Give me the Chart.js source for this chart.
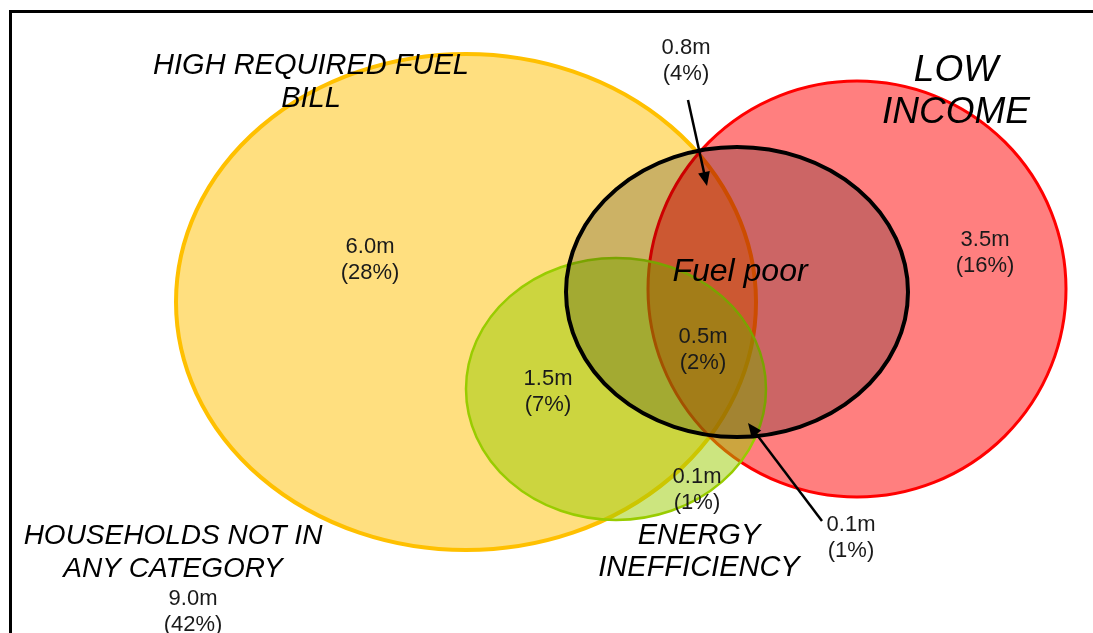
<!DOCTYPE html>
<html>
<head>
<meta charset="utf-8">
<script src="https://cdn.jsdelivr.net/npm/chart.js@4"></script>
<style>
  html, body { margin: 0; padding: 0; background: #fff; }
  #wrap { width: 1093px; height: 633px; }
</style>
</head>
<body>
<div id="wrap"><canvas id="myChart" width="1093" height="633"></canvas></div>
<script>
// the four sets of the diagram, drawn in this order
const setNames = [['HIGH REQUIRED FUEL', 'BILL'], ['LOW', 'INCOME'], ['ENERGY', 'INEFFICIENCY'], ['Fuel poor']];
const outsideName = ['HOUSEHOLDS NOT IN', 'ANY CATEGORY'];

// households in each region (millions) and share of all households (%)
const regionMillions = [6.0, 3.5, 1.5, 0.5, 0.8, 0.1, 0.1, 9.0];
const regionShares = [28, 16, 7, 2, 4, 1, 1, 42];

// layout, in a 1093 x 633 grid with y going down
const ellipseX = [466, 857, 616, 737];
const ellipseY = [302, 289, 389, 292];
const ellipseRx = [290, 209, 150, 171];
const ellipseRy = [248, 208, 131, 145];

const setFill = ['rgba(255,192,0,0.5)', 'rgba(255,0,0,0.5)', 'rgba(153,204,0,0.5)', 'rgba(0,0,0,0.2)'];
const setStroke = ['#FFC000', '#FF0000', '#99CC00', '#000000'];
const setStrokeWidth = [4, 3, 2.5, 4];

const namePos = [[311, 82], [956, 92], [699, 552], [740, 272]];
const nameSize = [29, 37, 29, 32];
const nameGap = [33, 42, 32, 0];
const outsidePos = [173, 553];

const regionPos = [[370, 260], [985, 253], [548, 392], [703, 350], [686, 61], [697, 490], [851, 538], [193, 612]];

const arrows = [
  [[688, 100], [707, 186]],
  [[822, 521], [748, 423]]
];

const data = {
  datasets: setNames.map((name, i) => ({
    label: name.join(' '),
    data: [{x: ellipseX[i], y: ellipseY[i]}],
    rx: ellipseRx[i],
    ry: ellipseRy[i],
    backgroundColor: setFill[i],
    borderColor: setStroke[i],
    borderWidth: setStrokeWidth[i],
    pointRadius: 0,
    pointHoverRadius: 0
  }))
};

function drawLines(ctx, lines, px, py, gap) {
  const top = py - gap * (lines.length - 1) / 2;
  lines.forEach((t, k) => ctx.fillText(t, px, top + k * gap));
}

const vennPlugin = {
  id: 'venn',
  beforeDraw(chart) {
    const ctx = chart.ctx;
    ctx.save();
    ctx.fillStyle = '#ffffff';
    ctx.fillRect(0, 0, chart.width, chart.height);
    ctx.restore();
  },
  afterDatasetsDraw(chart) {
    const {ctx, scales: {x, y}} = chart;
    chart.data.datasets.forEach((ds, i) => {
      const pt = chart.getDatasetMeta(i).data[0];
      const rx = Math.abs(x.getPixelForValue(ds.data[0].x + ds.rx) - pt.x);
      const ry = Math.abs(y.getPixelForValue(ds.data[0].y + ds.ry) - pt.y);
      ctx.save();
      ctx.beginPath();
      ctx.ellipse(pt.x, pt.y, rx, ry, 0, 0, Math.PI * 2);
      ctx.fillStyle = ds.backgroundColor;
      ctx.fill();
      ctx.lineWidth = ds.borderWidth;
      ctx.strokeStyle = ds.borderColor;
      ctx.stroke();
      ctx.restore();
    });
  },
  afterDraw(chart) {
    const {ctx, scales: {x, y}} = chart;
    ctx.save();

    // frame
    ctx.strokeStyle = '#000';
    ctx.lineWidth = 3;
    ctx.beginPath();
    ctx.moveTo(x.getPixelForValue(10.5), y.getPixelForValue(633));
    ctx.lineTo(x.getPixelForValue(10.5), y.getPixelForValue(11.5));
    ctx.lineTo(x.getPixelForValue(1093), y.getPixelForValue(11.5));
    ctx.stroke();

    // arrows
    ctx.lineWidth = 2.5;
    ctx.fillStyle = '#000';
    arrows.forEach(([a, b]) => {
      const x0 = x.getPixelForValue(a[0]), y0 = y.getPixelForValue(a[1]);
      const x1 = x.getPixelForValue(b[0]), y1 = y.getPixelForValue(b[1]);
      const ang = Math.atan2(y1 - y0, x1 - x0);
      const head = 14, wing = 6;
      ctx.beginPath();
      ctx.moveTo(x0, y0);
      ctx.lineTo(x1 - Math.cos(ang) * head * 0.8, y1 - Math.sin(ang) * head * 0.8);
      ctx.stroke();
      ctx.beginPath();
      ctx.moveTo(x1, y1);
      ctx.lineTo(x1 - Math.cos(ang) * head - Math.sin(ang) * wing, y1 - Math.sin(ang) * head + Math.cos(ang) * wing);
      ctx.lineTo(x1 - Math.cos(ang) * head + Math.sin(ang) * wing, y1 - Math.sin(ang) * head - Math.cos(ang) * wing);
      ctx.closePath();
      ctx.fill();
    });

    // set names
    ctx.textAlign = 'center';
    ctx.textBaseline = 'middle';
    ctx.fillStyle = '#000';
    setNames.forEach((lines, i) => {
      ctx.font = 'italic ' + nameSize[i] + 'px "Liberation Sans", Arial, sans-serif';
      drawLines(ctx, lines, x.getPixelForValue(namePos[i][0]), y.getPixelForValue(namePos[i][1]), nameGap[i]);
    });
    ctx.font = 'italic 28px "Liberation Sans", Arial, sans-serif';
    drawLines(ctx, outsideName, x.getPixelForValue(outsidePos[0]), y.getPixelForValue(outsidePos[1]), 33);

    // region values
    ctx.font = '22px "Liberation Sans", Arial, sans-serif';
    ctx.fillStyle = '#1a1a1a';
    regionMillions.forEach((v, i) => {
      const lines = [v.toFixed(1) + 'm', '(' + regionShares[i] + '%)'];
      drawLines(ctx, lines, x.getPixelForValue(regionPos[i][0]), y.getPixelForValue(regionPos[i][1]), 26);
    });
    ctx.restore();
  }
};

const config = {
  type: 'scatter',
  data: data,
  options: {
    responsive: false,
    animation: false,
    events: [],
    layout: { padding: 0 },
    plugins: {
      legend: { display: false },
      tooltip: { enabled: false }
    },
    scales: {
      x: { type: 'linear', min: 0, max: 1093, display: false },
      y: { type: 'linear', min: 0, max: 633, reverse: true, display: false }
    }
  },
  plugins: [vennPlugin]
};

const myChart = new Chart(
  document.getElementById('myChart'),
  config
);
</script>
</body>
</html>
